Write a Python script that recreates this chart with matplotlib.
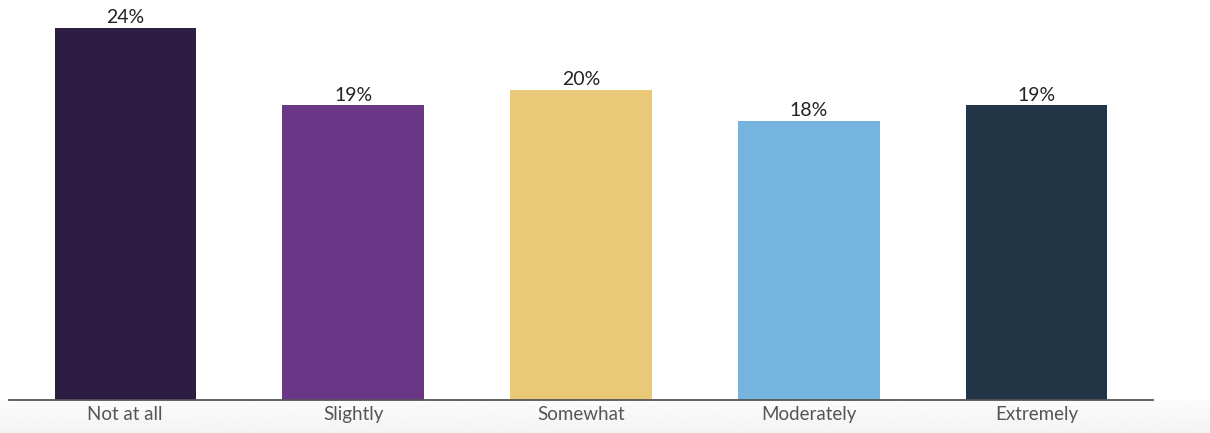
import numpy as np
import matplotlib.pyplot as plt

# data
categories = ['Not at all', 'Slightly', 'Somewhat', 'Moderately', 'Extremely']
values = [24, 19, 20, 18, 19]
colors = ['#2e1d42', '#6a3787', '#e9c978', '#76b4e0', '#213547']

plt.rcParams['font.family'] = ['Lato', 'DejaVu Sans']

fig = plt.figure(figsize=(12.1, 4.33), dpi=100)

# faint grey shading below the axis line
bg = fig.add_axes([0, 0, 1, 33 / 433])
grad = np.linspace(0.985, 0.955, 50).reshape(-1, 1)
bg.imshow(grad, aspect='auto', cmap='gray', vmin=0, vmax=1, extent=[0, 1, 0, 1])
bg.axis('off')

ax = fig.add_axes([9 / 1210, 33 / 433, 1144 / 1210, 400 / 433])
ax.patch.set_alpha(0)
x = np.arange(len(categories))
bars = ax.bar(x, values, width=0.62, color=colors)

for xi, v in zip(x, values):
    ax.text(xi, v + 0.1, f'{v}%', ha='center', va='bottom', fontsize=14, color='#222222')

ax.set_xlim(-0.51, 4.51)
ax.set_ylim(0, 25.8)
ax.set_xticks(x)
ax.set_xticklabels(categories, fontsize=13.5, color='#555555')
ax.tick_params(axis='x', length=0, pad=4)
ax.set_yticks([])
for s in ['top', 'right', 'left']:
    ax.spines[s].set_visible(False)
ax.spines['bottom'].set_color('#555555')
ax.spines['bottom'].set_linewidth(1.3)

fig.savefig('out.png', dpi=100)
